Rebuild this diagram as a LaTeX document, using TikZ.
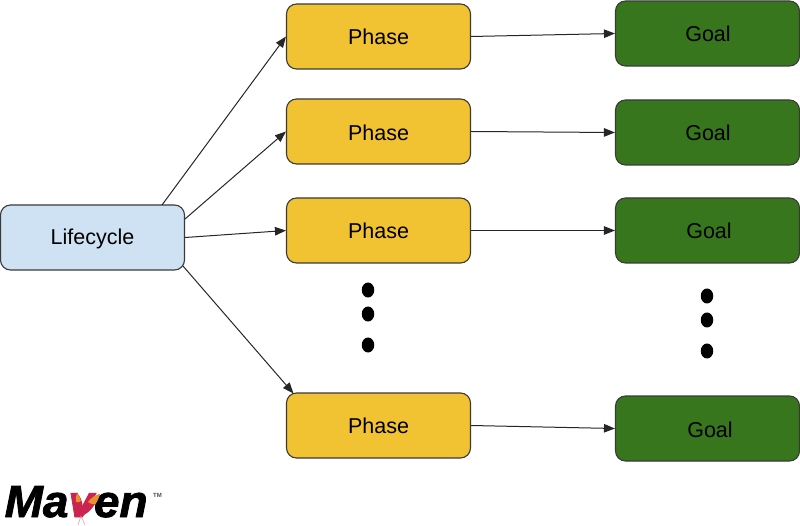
\documentclass[tikz,border=0pt]{standalone}
\usepackage{fontspec}
\setmainfont{Liberation Sans}
\newfontfamily\logofont[FakeBold=1.8,FakeStretch=1.02]{Liberation Sans Bold Italic}
\usetikzlibrary{arrows.meta,shapes.geometric}
\definecolor{lifeblue}{HTML}{CFE2F3}
\definecolor{phaseyellow}{HTML}{F1C232}
\definecolor{goalgreen}{HTML}{38761D}
\definecolor{edgegray}{HTML}{3A3A3A}
\definecolor{featherred}{HTML}{C9254F}
\definecolor{featherorange}{HTML}{E8912B}
\tikzset{
  x=1pt,y=-1pt,
  boxbase/.style={draw=edgegray,line width=1.1pt,rounded corners=10pt,minimum width=184pt,minimum height=65pt,inner sep=0pt,text=black},
  lifebox/.style={boxbase,fill=lifeblue},
  phasebox/.style={boxbase,fill=phaseyellow},
  goalbox/.style={boxbase,fill=goalgreen},
  link/.style={draw=black!85,line width=1pt,-{Triangle[length=11pt,width=8.5pt]}},
  vdot/.style={fill=black,draw=none,ellipse,minimum width=12.5pt,minimum height=15pt,inner sep=0pt},
  label/.style={inner sep=0pt,text=black,font=\fontsize{21.5}{24}\selectfont}
}
\begin{document}
\begin{tikzpicture}
\useasboundingbox (0,0) rectangle (800,526);
\node[lifebox] (life) at (92.5,237.5) {};
\node[phasebox] (p1) at (378.5,36.5) {};
\node[phasebox] (p2) at (378.5,131.5) {};
\node[phasebox] (p3) at (378.5,230.5) {};
\node[phasebox] (p4) at (378.5,425.5) {};
\node[goalbox] (g1) at (707.5,33.5) {};
\node[goalbox] (g2) at (707.5,132.5) {};
\node[goalbox] (g3) at (707.5,230.5) {};
\node[goalbox] (g4) at (707.5,428.5) {};
\node[label] (tlife) at (92.5,239) {Lifecycle};
\foreach \n/\y in {a/36.5,b/132.5,c/231,d/426}
  \node[label] (tp\n) at (378.5,\y) {Phase};
\node[label] (tg1) at (708,33.5) {Goal};
\node[label] (tg2) at (708,132.5) {Goal};
\node[label] (tg3) at (709,231) {Goal};
\node[label] (tg4) at (710,429.5) {Goal};
\coordinate (l1) at (162,205);
\coordinate (l2) at (185,219);
\coordinate (l4) at (183,266);
\coordinate (p4in) at (293.5,393.5);
\draw[link] (l1) -- (p1.west);
\draw[link] (l2) -- (p2.west);
\draw[link] (life.east) -- (p3.west);
\draw[link] (l4) -- (p4in);
\draw[link] (p1.east) -- (g1.west);
\draw[link] (p2.east) -- (g2.west);
\draw[link] (p3.east) -- (g3.west);
\draw[link] (p4.east) -- (g4.west);
\node[vdot] (d1) at (368,290) {};
\node[vdot] (d2) at (368,314) {};
\node[vdot] (d3) at (368,345) {};
\node[vdot] (d4) at (707,296) {};
\node[vdot] (d5) at (707,320) {};
\node[vdot] (d6) at (707,351) {};
% Maven logo
\node[inner sep=0pt,text=black,anchor=base west,font=\fontsize{45}{48}\logofont] (maven) at (4.5,517) {Ma{\color{featherred}v}en};
\fill[featherred] (77,493) .. controls (74,503) and (76,511) .. (81,516) .. controls (84,509) and (83,499) .. (77,493) -- cycle;
\fill[featherred] (100,494) .. controls (90,497) and (83,506) .. (81,516) .. controls (88,514) and (95,507) .. (100,494) -- cycle;
\fill[featherorange] (100,494) .. controls (95,495) and (91,498) .. (88,502) .. controls (91,504) and (94,505) .. (95.5,504) .. controls (97,502) and (99,498) .. (100,494) -- cycle;
\fill[featherorange] (77,493) .. controls (76,496) and (75.5,499) .. (76,502) .. controls (78,503) and (80,502) .. (81,501) .. controls (80,498) and (79,495) .. (77,493) -- cycle;
\draw[featherred!50,line width=0.5pt] (81,516) -- (78,525) (81,516) -- (85,525);
\node[inner sep=0pt,text=black!70,anchor=west,font=\fontsize{6}{7}\selectfont\bfseries] (tm) at (153,495) {TM};
\end{tikzpicture}
\end{document}
